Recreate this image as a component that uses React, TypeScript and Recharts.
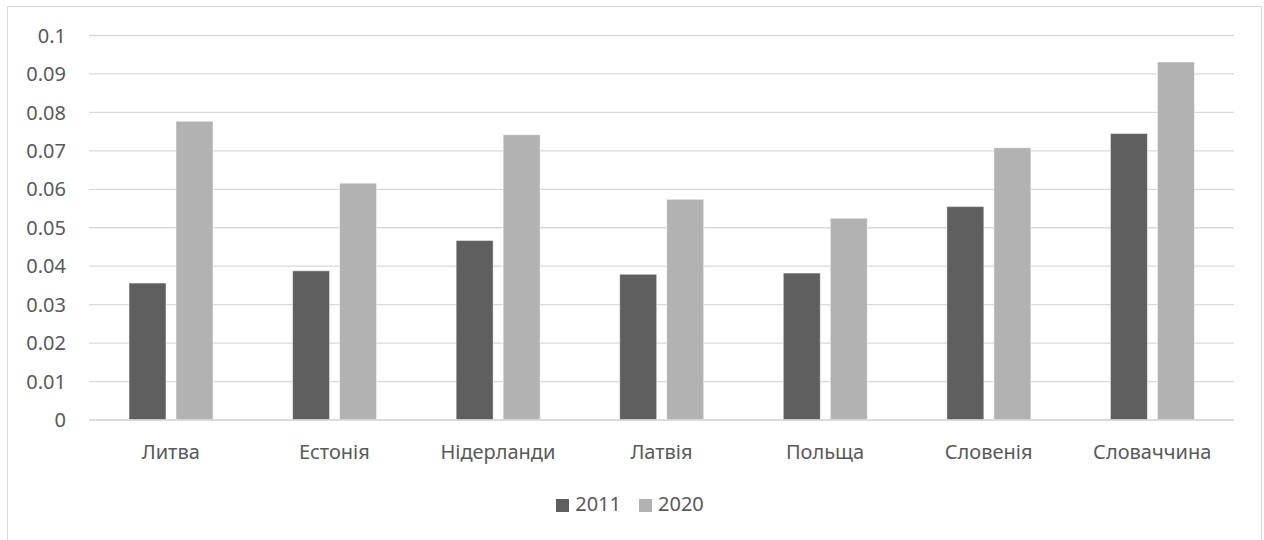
import { BarChart, Bar, XAxis, YAxis, CartesianGrid, Legend } from 'recharts'

const countries = ['Литва', 'Естонія', 'Нідерланди', 'Латвія', 'Польща', 'Словенія', 'Словаччина']
const values2011 = [0.0356, 0.0388, 0.0467, 0.0379, 0.0382, 0.0555, 0.0745]
const values2020 = [0.0777, 0.0616, 0.0742, 0.0574, 0.0525, 0.0708, 0.0931]
const yTicks = [0, 0.01, 0.02, 0.03, 0.04, 0.05, 0.06, 0.07, 0.08, 0.09, 0.1]

const data = countries.map((name, i) => ({
  name,
  y2011: values2011[i],
  y2020: values2020[i],
}))

const textStyle = { fill: '#595959', fontSize: 20, fontFamily: 'Noto Sans' }

export default function App() {
  return (
    <div style={{ position: 'absolute', left: 0, top: 0, width: 1264, height: 540, background: '#fff', overflow: 'hidden' }}>
      <div
        style={{
          position: 'absolute',
          left: 7,
          top: 6,
          width: 1255,
          height: 560,
          border: '1px solid #d9d9d9',
          boxSizing: 'border-box',
        }}
      />
      <BarChart
        width={1264}
        height={540}
        data={data}
        margin={{ top: 35.5, right: 30, bottom: 80, left: 29 }}
        barCategoryGap={40}
        barGap={10}
      >
        <CartesianGrid vertical={false} stroke="#d9d9d9" strokeWidth={1.3} />
        <XAxis
          dataKey="name"
          height={40}
          tickLine={false}
          tickSize={0}
          tickMargin={25}
          axisLine={{ stroke: '#d9d9d9', strokeWidth: 1.3 }}
          tick={textStyle}
        />
        <YAxis
          width={60}
          domain={[0, 0.1]}
          ticks={yTicks}
          axisLine={false}
          tickLine={false}
          tickSize={0}
          tickMargin={23}
          tick={textStyle}
        />
        <Legend
          verticalAlign="middle"
          align="center"
          iconType="square"
          iconSize={13}
          wrapperStyle={{ top: 490, left: 0, width: 1278, fontFamily: 'Noto Sans', fontSize: 20, lineHeight: '28px' }}
          formatter={(value) => <span style={{ color: '#595959', marginLeft: 2, marginRight: 8 }}>{value}</span>}
        />
        <Bar dataKey="y2011" name="2011" fill="#5f5f5f" stroke="#ffffff" strokeWidth={0.5} isAnimationActive={false} />
        <Bar dataKey="y2020" name="2020" fill="#b2b2b2" stroke="#ffffff" strokeWidth={0.5} isAnimationActive={false} />
      </BarChart>
    </div>
  )
}
